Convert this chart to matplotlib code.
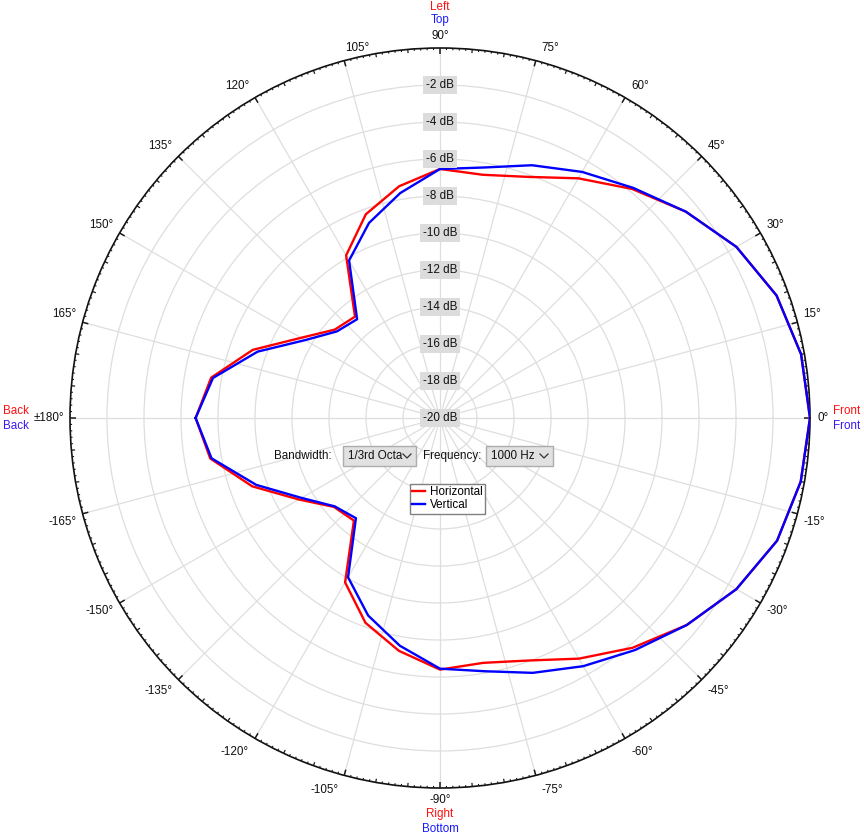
import numpy as np
import matplotlib
matplotlib.use('Agg')
import matplotlib.pyplot as plt
from matplotlib import transforms
from matplotlib.lines import Line2D
from matplotlib.patches import Rectangle

plt.rcParams['font.family'] = ['Liberation Sans', 'DejaVu Sans']

# ---------------- data ----------------
angles_deg = [-180, -170, -160, -150, -140, -130, -120, -110, -100, -90,
              -80, -70, -60, -50, -40, -30, -20, -10, 0,
              10, 20, 30, 40, 50, 60, 70, 80, 90,
              100, 110, 120, 130, 140, 150, 160, 170]
horizontal_db = [-6.79, -7.39, -9.20, -11.19, -12.52, -12.76, -9.74, -8.22, -7.22, -6.40,
                 -6.56, -6.05, -4.98, -3.79, -2.59, -1.50, -0.61, -0.20, 0.00,
                 -0.18, -0.64, -1.50, -2.65, -3.84, -5.04, -6.13, -6.65, -6.54,
                 -7.28, -8.28, -9.85, -12.85, -12.57, -11.33, -9.23, -7.44]
vertical_db = [-6.79, -7.46, -9.43, -11.36, -12.57, -12.93, -10.06, -8.64, -7.50, -6.45,
               -6.10, -5.34, -4.51, -3.62, -2.59, -1.50, -0.61, -0.20, 0.00,
               -0.18, -0.64, -1.50, -2.65, -3.76, -4.64, -5.46, -6.25, -6.54,
               -7.65, -8.78, -10.17, -13.03, -12.72, -11.58, -9.51, -7.54]
series_names = ['Horizontal', 'Vertical']
r_ticks = [-2, -4, -6, -8, -10, -12, -14, -16, -18, -20]
r_tick_labels = ['-2 dB', '-4 dB', '-6 dB', '-8 dB', '-10 dB', '-12 dB',
                 '-14 dB', '-16 dB', '-18 dB', '-20 dB']
theta_label_angles = list(range(-165, 181, 15))
bandwidth_text = '1/3rd Octa'
frequency_text = '1000 Hz'

# ---------------- figure ----------------
W, H = 864, 836
fig = plt.figure(figsize=(W / 100, H / 100), dpi=100)
fig.patch.set_facecolor('white')
cx, cy, R = 440, 418, 370
ax = fig.add_axes([(cx - R) / W, (H - cy - R) / H, 2 * R / W, 2 * R / H],
                  projection='polar')
ax.set_theta_zero_location('E')
ax.set_theta_direction(1)
ax.set_ylim(-20, 0)

FS = 8.4
grid_col = '#dedede'
tick_col = '#1a1a1a'

# grid
ax.set_yticks(r_ticks[:-1])
ax.set_yticklabels([])
ax.yaxis.grid(True, color=grid_col, lw=0.9)
ax.set_xticks(np.deg2rad(np.arange(0, 360, 15)))
ax.set_xticklabels([])
ax.xaxis.grid(True, color=grid_col, lw=0.9)
ax.tick_params(axis='both', length=0)

# tick marks on the outer ring (1 deg, 5 deg, 15 deg)
deg1 = np.arange(0, 360, 1)
deg1 = deg1[deg1 % 5 != 0]
deg5 = np.arange(0, 360, 5)
deg5 = deg5[deg5 % 15 != 0]
deg15 = np.arange(0, 360, 15)
ax.vlines(np.deg2rad(deg1), -0.11, 0, color=tick_col, lw=0.8, zorder=3)
ax.vlines(np.deg2rad(deg5), -0.2, 0, color=tick_col, lw=0.9, zorder=3)
ax.vlines(np.deg2rad(deg15), -0.32, 0, color=tick_col, lw=1.1, zorder=3)
ax.spines['polar'].set_color('#111111')
ax.spines['polar'].set_linewidth(1.2)

# data lines
th = np.deg2rad(np.array(angles_deg + [angles_deg[0] + 360]))
ax.plot(th, horizontal_db + [horizontal_db[0]], color='#ff0000', lw=1.7,
        label=series_names[0], zorder=4)
ax.plot(th, vertical_db + [vertical_db[0]], color='#0000ff', lw=1.7,
        label=series_names[1], zorder=5)

# radial labels
for r, lab in zip(r_ticks, r_tick_labels):
    ax.text(np.pi / 2, r, lab, ha='center', va='center', fontsize=FS,
            color='#111111', zorder=6,
            bbox=dict(boxstyle='square,pad=0.25', fc='#dcdcdc', ec='none'))

# theta labels
for a in theta_label_angles:
    txt = '\u00b1180\u00b0' if a == 180 else f'{a}\u00b0'
    t = np.deg2rad(a)
    s = abs(np.sin(t))
    if a == 90:
        dx, dy, ha, va = 0, 6, 'center', 'bottom'
    elif a == -90:
        dx, dy, ha, va = 0, -6, 'center', 'top'
    elif a == 180:
        dx, dy, ha, va = -6, 0, 'right', 'center'
    elif a == 0:
        dx, dy, ha, va = 8, 0, 'left', 'center'
    elif a == 105:
        dx, dy, ha, va = 1, 6.5, 'left', 'bottom'
    else:
        ha = 'left' if abs(a) < 90 else 'right'
        dx = 6 if abs(a) < 90 else -6
        extra = 5 * max(0.0, s - 0.5) / 0.5
        if a > 0:
            dy, va = 2 + extra, 'bottom'
        else:
            dy, va = -(2 + 1.4 * extra), 'top'
    tr = transforms.offset_copy(ax.transData, fig=fig, x=dx, y=dy, units='dots')
    ax.text(t, 0, txt, transform=tr, ha=ha, va=va, fontsize=FS, color='#111111',
            clip_on=False)


def fx(x):
    return x / W


def fy(y):
    return 1 - y / H


red_lab = '#ff1010'
blue_lab = '#1a1aff'
violet_lab = '#3d17f0'
fig.text(fx(440), fy(7), 'Left', color=red_lab, ha='center', va='center', fontsize=FS)
fig.text(fx(440), fy(20), 'Top', color=blue_lab, ha='center', va='center', fontsize=FS)
fig.text(fx(440), fy(814), 'Right', color=red_lab, ha='center', va='center', fontsize=FS)
fig.text(fx(440), fy(829), 'Bottom', color=blue_lab, ha='center', va='center', fontsize=FS)
fig.text(fx(3), fy(411), 'Back', color=red_lab, ha='left', va='center', fontsize=FS)
fig.text(fx(3), fy(426), 'Back', color=violet_lab, ha='left', va='center', fontsize=FS)
fig.text(fx(833), fy(411), 'Front', color=red_lab, ha='left', va='center', fontsize=FS)
fig.text(fx(833), fy(426), 'Front', color=violet_lab, ha='left', va='center', fontsize=FS)

# widgets
fig.text(fx(274), fy(456), 'Bandwidth:', ha='left', va='center', fontsize=FS, color='#111111')
fig.text(fx(423), fy(456), 'Frequency:', ha='left', va='center', fontsize=FS, color='#111111')
for (x0, x1, label) in [(343, 416, bandwidth_text), (486, 553, frequency_text)]:
    fig.add_artist(Rectangle((fx(x0), fy(466)), (x1 - x0) / W, 20 / H,
                             transform=fig.transFigure, fc='#e1e1e1',
                             ec='#adadad', lw=1.0))
    fig.text(fx(x0 + 5), fy(456), label, ha='left', va='center', fontsize=FS,
             color='#111111')
    chx = x1 - 9
    fig.add_artist(Line2D([fx(chx - 4), fx(chx), fx(chx + 4)],
                          [fy(454), fy(458), fy(454)],
                          transform=fig.transFigure, color='#333333', lw=0.9))

leg = ax.legend(loc='upper left', bbox_to_anchor=(fx(410), fy(484)),
                bbox_transform=fig.transFigure, fancybox=False,
                edgecolor='#808080', framealpha=1, fontsize=FS,
                handlelength=1.1, handletextpad=0.4, borderpad=0.2,
                labelspacing=0.1, borderaxespad=0)
leg.get_frame().set_linewidth(1.0)

fig.savefig('out.png', dpi=100, facecolor='white')
